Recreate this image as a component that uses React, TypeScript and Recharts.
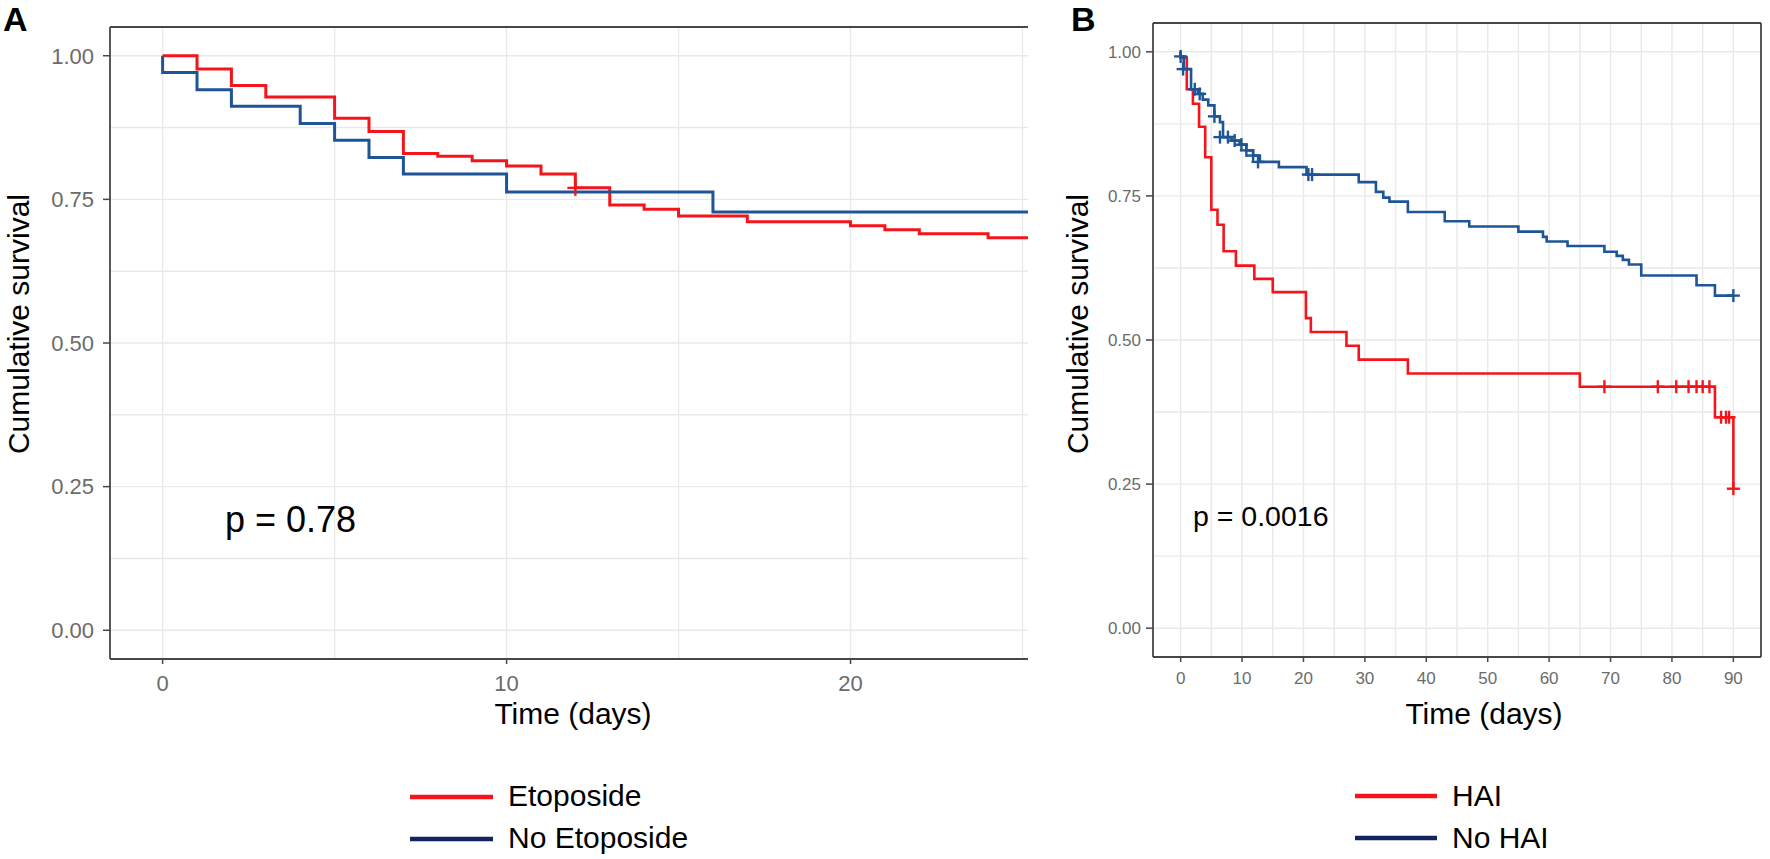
import React from "react";
import {
  CartesianGrid,
  ComposedChart,
  Line,
  ReferenceLine,
  Scatter,
  XAxis,
  YAxis,
} from "recharts";

// ---- Panel A: Etoposide vs No Etoposide ----
const etoTime = [0, 1, 2, 3, 5, 6, 7, 8, 9, 10, 11, 12, 13, 14, 15, 17, 20, 21, 22, 24, 30];
const etoSurv = [1.0, 0.977, 0.948, 0.928, 0.891, 0.868, 0.83, 0.825, 0.817, 0.808, 0.794, 0.77, 0.74, 0.733, 0.721, 0.711, 0.704, 0.697, 0.69, 0.683, 0.683];
const noEtoTime = [0, 0, 1, 2, 4, 5, 6, 7, 10, 16, 30];
const noEtoSurv = [1.0, 0.971, 0.941, 0.912, 0.882, 0.853, 0.823, 0.794, 0.763, 0.728, 0.728];
const etoCensorTime = [12];
const etoCensorSurv = [0.77];

// ---- Panel B: HAI vs No HAI ----
const haiTime = [0, 0, 1, 2, 3, 4, 5, 6, 7, 9, 12, 15, 20.4, 21.2, 27, 29, 37, 65, 87, 90];
const haiSurv = [1.0, 0.99, 0.935, 0.91, 0.87, 0.817, 0.726, 0.7, 0.654, 0.629, 0.606, 0.583, 0.538, 0.514, 0.49, 0.466, 0.442, 0.419, 0.366, 0.242];
const noHaiTime = [0, 0, 0.5, 1.7, 2.8, 3.6, 4.5, 5.5, 6.4, 6.9, 8.3, 9.6, 10.7, 11.8, 12.9, 16, 20.5, 29, 31.8, 33, 34, 37, 43, 47, 55, 59, 59.6, 63, 69, 71, 72, 73, 75, 84, 87, 90];
const noHaiSurv = [1.0, 0.992, 0.97, 0.935, 0.927, 0.917, 0.907, 0.888, 0.878, 0.852, 0.846, 0.839, 0.829, 0.82, 0.809, 0.8, 0.787, 0.774, 0.757, 0.747, 0.74, 0.722, 0.706, 0.697, 0.688, 0.679, 0.671, 0.663, 0.653, 0.646, 0.639, 0.631, 0.612, 0.595, 0.577, 0.577];
const haiCensorTime = [69, 77.7, 80.7, 82.7, 84, 85, 86.1, 88, 88.8, 89.3, 90];
const haiCensorSurv = [0.419, 0.419, 0.419, 0.419, 0.419, 0.419, 0.419, 0.366, 0.366, 0.366, 0.242];
const noHaiCensorTime = [0, 0.4, 2.3, 3.1, 5.5, 6.4, 7.7, 8.8, 9.9, 10.7, 11.8, 12.6, 20.8, 21.4, 90];
const noHaiCensorSurv = [0.992, 0.97, 0.935, 0.927, 0.888, 0.852, 0.852, 0.846, 0.839, 0.829, 0.82, 0.809, 0.787, 0.787, 0.577];

// axis ticks / grid
const yTicks = [0, 0.25, 0.5, 0.75, 1];
const yGrid = [0, 0.125, 0.25, 0.375, 0.5, 0.625, 0.75, 0.875, 1];
const aXTicks = [0, 10, 20];
const aXGrid = [0, 5, 10, 15, 20, 25];
const bXTicks = [0, 10, 20, 30, 40, 50, 60, 70, 80, 90];
const bXGrid = [0, 5, 10, 15, 20, 25, 30, 35, 40, 45, 50, 55, 60, 65, 70, 75, 80, 85, 90];

const RED = "#F5141B";
const BLUE = "#1E5597";
const NAVY = "#13235E";
const BORDER = "#474747";
const GRID = "#e9e9e9";
const TICK = "#6b6b6b";
const FONT = "'Liberation Sans', Arial, sans-serif";

const rows = (t: number[], s: number[]) => t.map((v, i) => ({ t: v, s: s[i] }));

const PlusMark = ({ cx, cy, r, color, sw }: any) => (
  <g>
    <line x1={cx - r} x2={cx + r} y1={cy} y2={cy} stroke={color} strokeWidth={sw} />
    <line x1={cx} x2={cx} y1={cy - r} y2={cy + r} stroke={color} strokeWidth={sw} />
  </g>
);

type Curve = { name: string; time: number[]; surv: number[]; color: string };
type Censor = { time: number[]; surv: number[]; color: string };

function KmChart(props: {
  width: number;
  height: number;
  margin: any;
  yAxisWidth: number;
  xDomain: [number, number];
  xTicks: number[];
  xGrid: number[];
  tickFont: number;
  xTickMargin: number;
  yTickMargin: number;
  lineWidth: number;
  markR: number;
  curves: Curve[];
  censors: Censor[];
  rightBorder: boolean;
}) {
  const p = props;
  return (
    <ComposedChart width={p.width} height={p.height} margin={p.margin}>
      <CartesianGrid
        horizontalValues={yGrid}
        verticalValues={p.xGrid}
        stroke={GRID}
        strokeWidth={1.4}
      />
      <XAxis
        type="number"
        dataKey="t"
        domain={p.xDomain}
        allowDataOverflow
        ticks={p.xTicks}
        interval={0}
        height={60}
        tickSize={5}
        tickMargin={p.xTickMargin}
        tick={{ fill: TICK, fontSize: p.tickFont }}
        tickLine={{ stroke: BORDER, strokeWidth: 1.5 }}
        axisLine={{ stroke: BORDER, strokeWidth: 1.8 }}
      />
      <YAxis
        type="number"
        dataKey="s"
        domain={[-0.05, 1.05]}
        allowDataOverflow
        ticks={yTicks}
        interval={0}
        width={p.yAxisWidth}
        tickSize={7}
        tickMargin={p.yTickMargin}
        tickFormatter={(v: number) => v.toFixed(2)}
        tick={{ fill: TICK, fontSize: p.tickFont }}
        tickLine={{ stroke: BORDER, strokeWidth: 1.5 }}
        axisLine={{ stroke: BORDER, strokeWidth: 1.8 }}
      />
      <ReferenceLine y={1.05} stroke={BORDER} strokeWidth={1.8} />
      {p.rightBorder && <ReferenceLine x={p.xDomain[1]} stroke={BORDER} strokeWidth={1.8} />}
      {p.curves.map((c) => (
        <Line
          key={c.name}
          name={c.name}
          data={rows(c.time, c.surv)}
          dataKey="s"
          type="stepAfter"
          stroke={c.color}
          strokeWidth={p.lineWidth}
          dot={false}
          isAnimationActive={false}
        />
      ))}
      {p.censors.map((c, i) => (
        <Scatter
          key={i}
          data={rows(c.time, c.surv)}
          dataKey="s"
          isAnimationActive={false}
          shape={(sp: any) => (
            <PlusMark cx={sp.cx} cy={sp.cy} r={p.markR} color={c.color} sw={2.4} />
          )}
        />
      ))}
    </ComposedChart>
  );
}

export default function App() {
  return (
    <div
      style={{
        position: "absolute",
        left: 0,
        top: 0,
        width: 1770,
        height: 859,
        background: "#fff",
        fontFamily: FONT,
        overflow: "hidden",
      }}
    >
      {/* Panel A */}
      <div style={{ position: "absolute", left: 0, top: 0 }}>
        <KmChart
          width={1040}
          height={760}
          margin={{ top: 27, right: 12, bottom: 41, left: 0 }}
          yAxisWidth={110}
          xDomain={[-1.53, 25.16]}
          xTicks={aXTicks}
          xGrid={aXGrid}
          tickFont={22}
          xTickMargin={11}
          yTickMargin={9}
          lineWidth={3}
          markR={8}
          rightBorder={false}
          curves={[
            { name: "Etoposide", time: etoTime, surv: etoSurv, color: RED },
            { name: "No Etoposide", time: noEtoTime, surv: noEtoSurv, color: BLUE },
          ]}
          censors={[{ time: etoCensorTime, surv: etoCensorSurv, color: RED }]}
        />
      </div>

      {/* Panel B */}
      <div style={{ position: "absolute", left: 1040, top: 0 }}>
        <KmChart
          width={730}
          height={760}
          margin={{ top: 23, right: 9, bottom: 43, left: 0 }}
          yAxisWidth={113}
          xDomain={[-4.5, 94.5]}
          xTicks={bXTicks}
          xGrid={bXGrid}
          tickFont={17}
          xTickMargin={10}
          yTickMargin={5}
          lineWidth={2.6}
          markR={6.5}
          rightBorder
          curves={[
            { name: "HAI", time: haiTime, surv: haiSurv, color: RED },
            { name: "No HAI", time: noHaiTime, surv: noHaiSurv, color: BLUE },
          ]}
          censors={[
            { time: haiCensorTime, surv: haiCensorSurv, color: RED },
            { time: noHaiCensorTime, surv: noHaiCensorSurv, color: BLUE },
          ]}
        />
      </div>

      {/* titles, annotations, legends */}
      <svg
        width={1770}
        height={859}
        style={{ position: "absolute", left: 0, top: 0, pointerEvents: "none" }}
        fontFamily={FONT}
      >
        <text x={3} y={31} fontSize={34} fontWeight="bold" fill="#000">A</text>
        <text x={1071} y={31} fontSize={34} fontWeight="bold" fill="#000">B</text>

        <text x={29} y={324} fontSize={30} textAnchor="middle" transform="rotate(-90 29 324)" fill="#000">
          Cumulative survival
        </text>
        <text x={1088} y={324} fontSize={30} textAnchor="middle" transform="rotate(-90 1088 324)" fill="#000">
          Cumulative survival
        </text>

        <text x={573} y={724} fontSize={30} textAnchor="middle" fill="#000">Time (days)</text>
        <text x={1484} y={724} fontSize={30} textAnchor="middle" fill="#000">Time (days)</text>

        <text x={225} y={532} fontSize={36} fill="#000">p = 0.78</text>
        <text x={1193} y={526} fontSize={28.5} fill="#000">p = 0.0016</text>

        <line x1={410} x2={493} y1={797} y2={797} stroke={RED} strokeWidth={4.5} />
        <line x1={410} x2={493} y1={839} y2={839} stroke={NAVY} strokeWidth={4.5} />
        <text x={508} y={806} fontSize={30} fill="#000">Etoposide</text>
        <text x={508} y={848} fontSize={30} fill="#000">No Etoposide</text>

        <line x1={1355} x2={1437} y1={796} y2={796} stroke={RED} strokeWidth={4.5} />
        <line x1={1355} x2={1437} y1={838} y2={838} stroke={NAVY} strokeWidth={4.5} />
        <text x={1452} y={806} fontSize={30} fill="#000">HAI</text>
        <text x={1452} y={848} fontSize={30} fill="#000">No HAI</text>
      </svg>
    </div>
  );
}
